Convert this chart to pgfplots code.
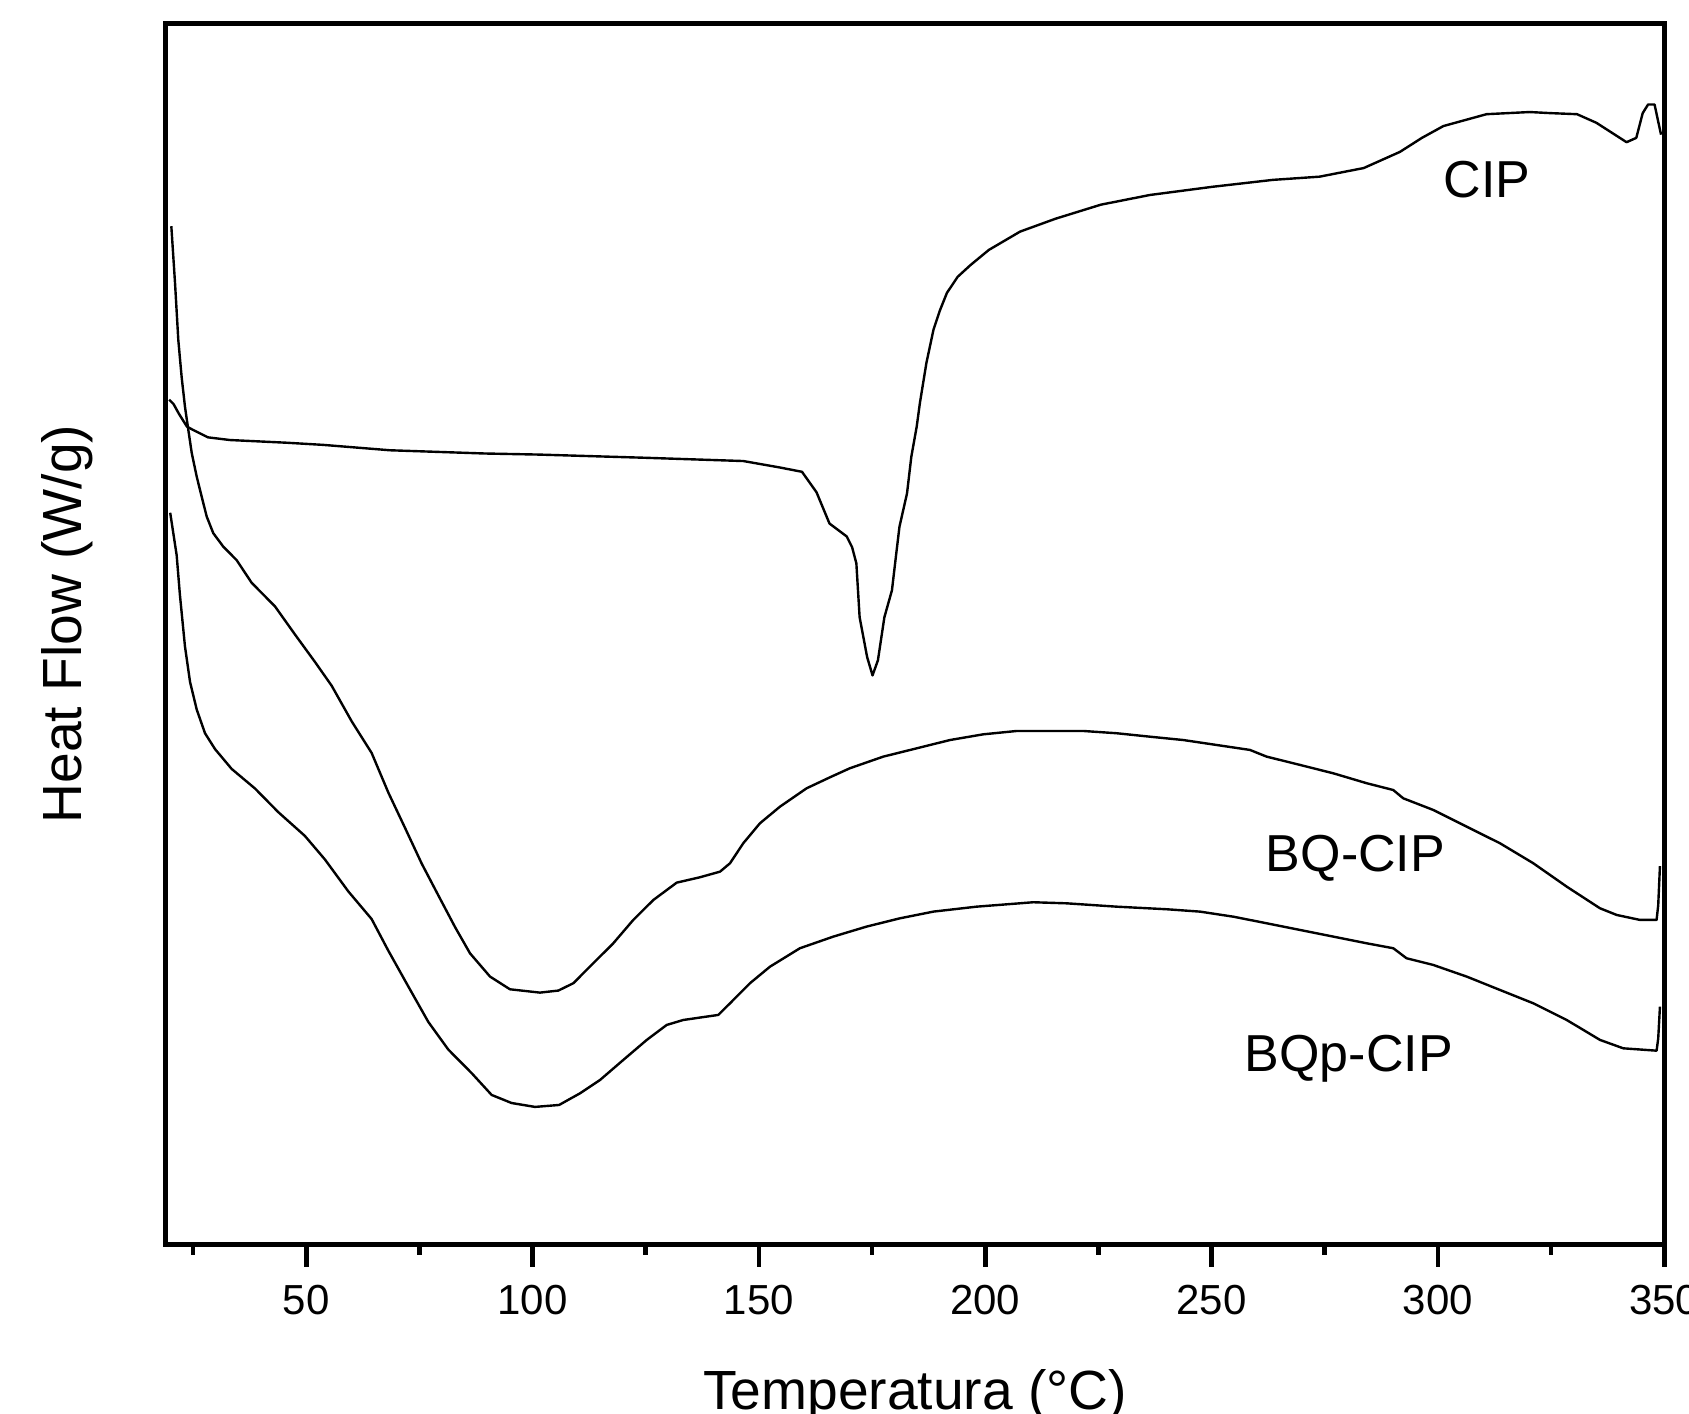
\documentclass[border=0pt]{standalone}
\usepackage{fontspec}
\setmainfont{Liberation Sans}
\usepackage{pgfplots}
\pgfplotsset{compat=1.18}
\begin{document}
\begin{tikzpicture}
\begin{axis}[
  scale only axis, width=374.63pt, height=305.14pt,
  xmin=19, xmax=350, ymin=0, ymax=1133,
  axis line style={line width=1.25pt},
  xtick={50,100,...,350},
  minor xtick={25,75,...,325},
  ytick=\empty,
  xtick pos=left,
  tick align=outside,
  major tick length=5.6pt, minor tick length=2.7pt,
  every tick/.append style={black, line width=1.2pt},
  /pgf/number format/assume math mode=true,
  xticklabel style={font=\fontsize{10.5}{12}\selectfont, yshift=-1pt},
  xlabel={Temperatura (°C)},
  xlabel style={at={(axis description cs:0.5,-0.1355)}, anchor=base,
    font=\fontsize{13.8}{16}\selectfont},
  ylabel={Heat Flow (W/g)},
  ylabel style={at={(axis description cs:-0.0562,0.508)}, anchor=base,
    font=\fontsize{13.8}{16}\selectfont},
]
% CIP
\addplot[black, line width=0.6pt, line join=round] coordinates {
(19.71,784) (20.67,780) (21.86,771) (23.64,759) (24.95,756) (28.28,749)
(33.16,746.5) (45.65,744) (53.74,742) (68.50,737) (89.44,734) (101.34,733)
(125.13,730) (146.55,727) (154.64,721) (159.52,717) (162.73,698) (165.59,669)
(169.40,657) (170.59,647) (171.53,632) (172.25,582) (173.91,545) (175.10,528)
(176.29,542) (177.72,582) (179.39,607) (180.34,641) (181.05,666) (182.72,697)
(183.67,731) (184.86,759) (185.57,781) (187.00,818) (188.57,849) (190.00,867)
(191.52,883) (193.90,898) (196.76,909) (200.80,923) (207.70,940) (215.56,952)
(225.55,965) (236.38,974) (250.20,981.6) (263.50,988) (273.86,991) (283.61,999)
(291.61,1014) (296.46,1027) (301.22,1038) (310.74,1049) (320.26,1051) (324.78,1050)
(330.73,1049) (335.01,1041) (341.67,1023) (343.82,1027) (345.24,1050) (346.43,1058)
(347.86,1058) (348.57,1044) (349.29,1030)
};
% BQ-CIP
\addplot[black, line width=0.6pt, line join=round] coordinates {
(20.2,945) (21.02,892) (21.74,839.4) (22.47,805.3) (23.21,777.5)
(23.95,756) (24.71,734.4) (25.81,712.5) (26.90,694) (28.02,675.4) (29.47,660)
(31.68,647.5) (34.63,635) (37.94,614) (43.11,592) (47.51,566) (51.93,540.5)
(55.62,518.4) (60.05,485.3) (64.45,456) (68.14,419.2) (71.83,386.4) (75.52,353.2)
(79.18,323.8) (82.87,294.4) (86.18,270) (90.60,248.4) (95.00,236.6) (101.64,233.5)
(105.69,235.4) (109.00,242.2) (113.42,260.8) (117.83,279.3) (122.25,301) (126.68,319.5)
(131.84,335.6) (136.98,340.6) (141.41,345.8) (143.62,353.6) (146.55,372.2) (150.23,390.7)
(154.64,406.1) (160.54,423.2) (165.70,433.4) (170.10,441.8) (177.48,452.6) (184.86,460.3)
(192.21,468) (199.57,473.3) (206.94,476.4) (221.65,476.4) (229.03,474.3) (236.38,471.1)
(243.75,468) (251.11,463.4) (258.48,458.8) (262.15,452.6) (269.52,444.9) (276.90,437.1)
(284.26,427.9) (290.13,421.6) (292.34,413.9) (298.96,403.1) (306.34,387.6) (313.69,372.2)
(321.07,353.6) (328.45,331.9) (335.80,311.8) (339.49,305.6) (344.63,301) (348.31,301)
(348.67,314.9) (349.05,351)
};
% BQp-CIP
\addplot[black, line width=0.6pt, line join=round] coordinates {
(19.95,679) (21.38,639.5) (22.09,603) (23.21,555) (24.33,522) (25.81,496.3)
(27.64,474.3) (29.85,459.6) (33.52,441.2) (38.68,423) (43.84,401) (49.70,379)
(54.15,357) (59.31,327.4) (64.45,301.8) (68.14,272.4) (72.54,239.3) (76.97,206.3)
(81.39,180.6) (86.56,158.7) (90.96,138.5) (95.38,131) (100.53,127.4) (105.86,129.2)
(110.47,140) (114.90,152.4) (120.04,171) (125.20,189.5) (129.63,203.5) (133.29,208.1)
(141.03,212.8) (143.62,223.6) (148.02,242.2) (152.45,257.6) (159.06,274.7) (166.44,285.5)
(173.79,294.8) (181.17,302.5) (188.52,308.7) (198.09,313.3) (210.61,317.4) (217.98,316.4)
(229.03,313.3) (240.07,310.9) (247.44,308.7) (254.80,304) (262.15,297.9) (269.52,291.7)
(276.90,285.5) (284.26,279.3) (290.13,274.7) (293.08,265.4) (298.96,259.2) (306.34,248.4)
(313.69,236) (321.07,223.6) (328.45,208.1) (335.80,189.6) (340.94,181.8) (348.31,179.6)
(348.67,191.1) (349.05,220.5)
};
\node[anchor=base, font=\fontsize{13}{15}\selectfont] at (axis cs:310.8,972) {CIP};
\node[anchor=base, font=\fontsize{13}{15}\selectfont] at (axis cs:281.8,346) {BQ-CIP};
\node[anchor=base, font=\fontsize{13}{15}\selectfont] at (axis cs:280.3,160) {BQp-CIP};
\end{axis}
\pgfresetboundingbox
\useasboundingbox (-41.48pt,-42.28pt) rectangle (380.82pt,311.07pt);
\end{tikzpicture}
\end{document}
